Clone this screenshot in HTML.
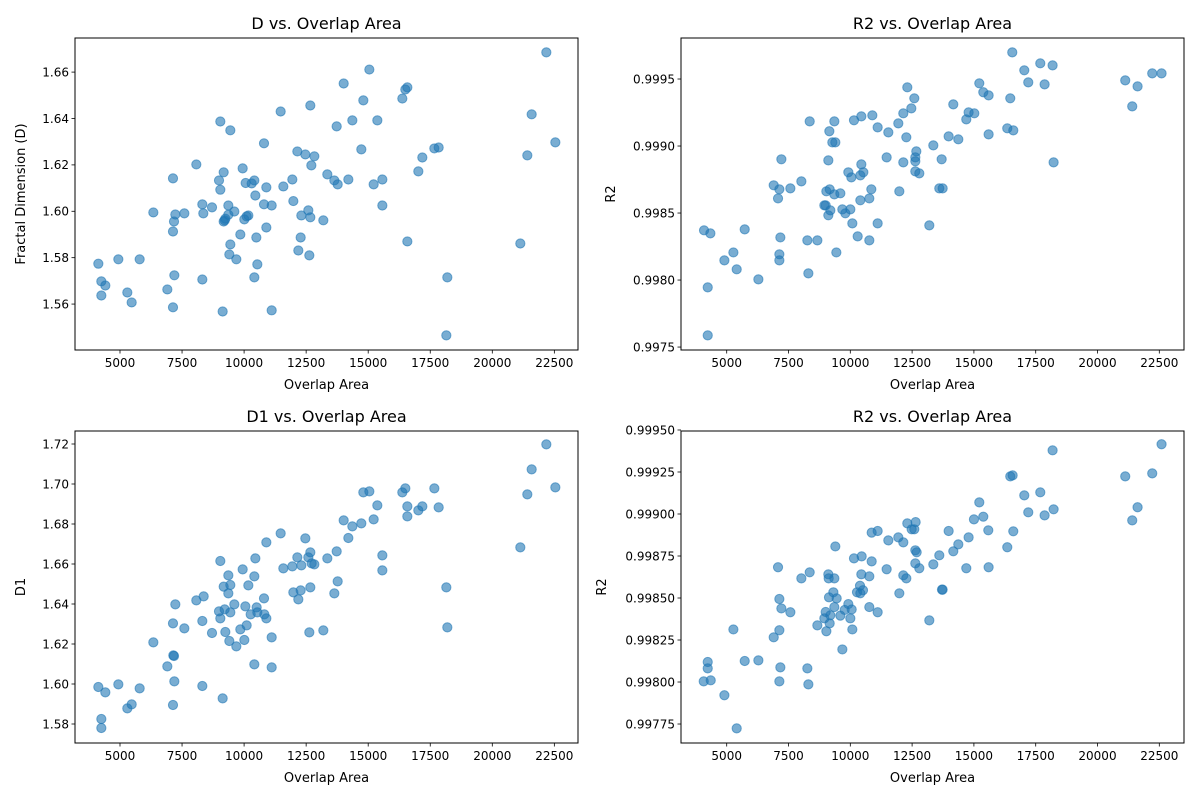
<!DOCTYPE html>
<html><head><meta charset="utf-8">
<style>
html,body{margin:0;padding:0;background:#fff;}
svg{display:block;font-family:"DejaVu Sans","Liberation Sans",sans-serif;}
</style></head>
<body>
<svg id="fig" width="1200" height="800" viewBox="0 0 1200 800" xmlns="http://www.w3.org/2000/svg"></svg>
<script>
const xTicks = [5000,7500,10000,12500,15000,17500,20000,22500];

const dX = [4127,4248,4248,4409,4933,5295,5470,5792,6343,6907,7135,7135,7135,7176,7189,7229,7592,8075,8317,8357,8317,8707,9042,8989,9042,9136,9177,9177,9217,9244,9365,9365,9405,9445,9445,9606,9687,9848,9942,10009,10063,10103,10171,10305,10412,10412,10453,10493,10533,10802,10802,10896,10896,11111,11111,11473,11581,11943,11984,12145,12185,12279,12306,12467,12588,12628,12668,12668,12709,12830,13192,13353,13635,13730,13770,14012,14200,14361,14723,14804,15046,15220,15368,15570,15570,16375,16496,16577,16577,17020,17181,17665,17839,18148,18188,21129,21411,21586,22177,22540];
const dY = [1.5774,1.5698,1.5637,1.5680,1.5793,1.5650,1.5607,1.5793,1.5995,1.5663,1.6142,1.5913,1.5586,1.5956,1.5724,1.5986,1.5991,1.6202,1.6030,1.5991,1.5706,1.6017,1.6387,1.6133,1.6093,1.5568,1.6168,1.5956,1.5961,1.5968,1.6025,1.5985,1.5814,1.6349,1.5857,1.5999,1.5793,1.5900,1.6185,1.5965,1.6122,1.5978,1.5982,1.6120,1.6133,1.5715,1.6068,1.5887,1.5771,1.6293,1.6030,1.6103,1.5930,1.6025,1.5573,1.6430,1.6107,1.6137,1.6044,1.6258,1.5831,1.5887,1.5982,1.6245,1.6004,1.5810,1.6456,1.5974,1.6198,1.6237,1.5961,1.6159,1.6133,1.6366,1.6116,1.6551,1.6137,1.6392,1.6267,1.6478,1.6611,1.6116,1.6392,1.6137,1.6025,1.6486,1.6525,1.6534,1.5870,1.6172,1.6232,1.6271,1.6275,1.5465,1.5715,1.5861,1.6241,1.6418,1.6685,1.6297];
const dTicks = [1.56,1.58,1.60,1.62,1.64,1.66];

const r2aX = [4083,4339,4232,4232,4906,5270,5404,5728,6281,6901,7076,7130,7170,7130,7130,7211,7575,8020,8357,8262,8303,8667,9004,8950,9031,9111,9152,9165,9192,9111,9273,9354,9394,9354,9435,9597,9678,9799,9920,10001,10042,10082,10149,10298,10405,10405,10446,10446,10527,10769,10769,10850,10891,11106,11106,11470,11538,11942,11983,12144,12144,12266,12306,12468,12589,12630,12630,12670,12630,12791,13196,13358,13600,13695,13735,13978,14166,14369,14692,14786,15016,15218,15380,15595,15595,16350,16471,16552,16593,17038,17199,17685,17860,18183,18224,21122,21405,21621,22214,22591];
const r2aY = [0.998371,0.998348,0.997945,0.997587,0.998147,0.998206,0.998080,0.998378,0.998005,0.998707,0.998609,0.998677,0.998318,0.998192,0.998147,0.998901,0.998684,0.998736,0.999184,0.998296,0.998050,0.998296,0.998557,0.998557,0.998662,0.998893,0.999110,0.998677,0.998520,0.998483,0.999027,0.999184,0.999027,0.998639,0.998206,0.998647,0.998527,0.998498,0.998804,0.998527,0.998766,0.998423,0.999192,0.998326,0.998781,0.998595,0.999221,0.998863,0.998804,0.998296,0.998609,0.998677,0.999229,0.999139,0.998423,0.998915,0.999102,0.999169,0.998662,0.999244,0.998878,0.999065,0.999438,0.999281,0.999356,0.998915,0.998886,0.998960,0.998811,0.998796,0.998408,0.999005,0.998684,0.998901,0.998684,0.999072,0.999311,0.999050,0.999199,0.999251,0.999244,0.999468,0.999401,0.999378,0.999087,0.999132,0.999356,0.999699,0.999117,0.999565,0.999475,0.999617,0.999460,0.999602,0.998878,0.999490,0.999296,0.999445,0.999542,0.999542];
const r2aTicks = [0.9975,0.9980,0.9985,0.9990,0.9995];

const d1X = [4127,4409,4248,4248,4933,5295,5470,5792,6343,6907,7135,7149,7176,7189,7135,7229,7592,8075,8371,8317,8317,8707,9042,8989,9042,9136,9177,9217,9244,9365,9365,9405,9445,9445,9606,9687,9848,9942,10009,10050,10103,10171,10265,10412,10412,10453,10506,10533,10802,10815,10896,10896,11111,11111,11473,11581,11943,11984,12145,12185,12279,12306,12467,12588,12628,12668,12668,12722,12830,13192,13353,13635,13730,13770,14012,14200,14361,14723,14804,15046,15220,15368,15570,15570,16375,16496,16577,16577,17020,17181,17665,17839,18148,18188,21129,21411,21586,22177,22540];
const d1Y = [1.5985,1.5958,1.5825,1.5780,1.5998,1.5878,1.5898,1.5978,1.6208,1.6088,1.6303,1.6143,1.6140,1.6013,1.5895,1.6398,1.6278,1.6418,1.6438,1.6315,1.5990,1.6255,1.6615,1.6363,1.6328,1.5928,1.6487,1.6373,1.6260,1.6543,1.6453,1.6215,1.6495,1.6358,1.6398,1.6188,1.6273,1.6573,1.6220,1.6388,1.6293,1.6493,1.6348,1.6538,1.6098,1.6628,1.6383,1.6358,1.6428,1.6348,1.6708,1.6328,1.6233,1.6083,1.6753,1.6578,1.6588,1.6458,1.6633,1.6423,1.6468,1.6593,1.6728,1.6633,1.6258,1.6658,1.6483,1.6603,1.6598,1.6268,1.6628,1.6453,1.6663,1.6513,1.6818,1.6730,1.6788,1.6803,1.6958,1.6963,1.6823,1.6893,1.6643,1.6568,1.6958,1.6978,1.6888,1.6838,1.6868,1.6888,1.6978,1.6883,1.6483,1.6283,1.6683,1.6948,1.7073,1.7198,1.6983];
const d1Ticks = [1.58,1.60,1.62,1.64,1.66,1.68,1.70,1.72];

const r2bX = [4070,4353,4232,4232,4906,5270,5404,5728,6281,6901,7076,7130,7130,7170,7130,7211,7575,8020,8357,8262,8303,8667,9004,8950,9031,9111,9125,9138,9165,9192,9314,9354,9394,9354,9448,9597,9678,9772,9920,10001,10055,10082,10149,10271,10392,10405,10459,10513,10446,10769,10769,10864,10864,11106,11106,11470,11538,11942,11983,12144,12144,12266,12306,12481,12589,12643,12630,12684,12630,12791,13196,13358,13600,13708,13735,13978,14166,14369,14692,14786,15002,15218,15380,15582,15595,16350,16471,16566,16593,17038,17199,17685,17860,18224,18183,21122,21405,21621,22214,22591];
const r2bY = [0.998004,0.998010,0.998119,0.998081,0.997921,0.998313,0.997724,0.998125,0.998129,0.998266,0.998683,0.998494,0.998308,0.998087,0.998004,0.998438,0.998415,0.998617,0.998653,0.998081,0.997986,0.998337,0.998417,0.998379,0.998302,0.998641,0.998617,0.998504,0.998349,0.998397,0.998534,0.998617,0.998807,0.998446,0.998498,0.998395,0.998194,0.998429,0.998464,0.998379,0.998432,0.998313,0.998736,0.998534,0.998573,0.998528,0.998748,0.998546,0.998641,0.998446,0.998629,0.998889,0.998718,0.998899,0.998415,0.998671,0.998843,0.998861,0.998528,0.998831,0.998635,0.998617,0.998944,0.998909,0.998909,0.998952,0.998784,0.998772,0.998706,0.998677,0.998367,0.998700,0.998754,0.998550,0.998550,0.998899,0.998778,0.998819,0.998677,0.998861,0.998968,0.999069,0.998984,0.998903,0.998683,0.998802,0.999224,0.999230,0.998897,0.999111,0.999010,0.999129,0.998992,0.999028,0.999379,0.999224,0.998962,0.999040,0.999242,0.999415];
const r2bTicks = [0.99775,0.99800,0.99825,0.99850,0.99875,0.99900,0.99925,0.99950];

const NS = "http://www.w3.org/2000/svg";
const svg = document.getElementById('fig');
function mk(tag, attrs, parent){const e=document.createElementNS(NS,tag);for(const k in attrs)e.setAttribute(k,attrs[k]);(parent||svg).appendChild(e);return e;}

function panel(cfg){
  const {key,L,T,R,B,xmin,xmax,ymin,ymax,xs,ys,yt,ydec,title,ylab,ylabX} = cfg;
  const g = mk('g',{});
  
  
  const sx = v => L + (v - xmin)/(xmax - xmin)*(R - L);
  const sy = v => B - (v - ymin)/(ymax - ymin)*(B - T);
  // points
  const pts = mk('g',{},g);
  
  
  for(let i=0;i<xs.length;i++){
    const c = mk('circle',{cx:sx(xs[i]),cy:sy(ys[i]),r:4.6,fill:'#1f77b4','fill-opacity':0.6,stroke:'#1f77b4','stroke-opacity':0.6,'stroke-width':1},pts);
    
    
  }
  // frame
  const fr = mk('rect',{x:L,y:T,width:R-L,height:B-T,fill:'none',stroke:'#000','stroke-width':1},g);
  
  
  // x ticks
  xTicks.forEach(v=>{
    const x = sx(v);
    mk('line',{x1:x,x2:x,y1:B,y2:B+3.5,stroke:'#000','stroke-width':0.8},g);
    const t = mk('text',{x:x,y:B+17,'font-size':12,'text-anchor':'middle',fill:'#000'},g);
    t.textContent = String(v);
    
    
  });
  yt.forEach(v=>{
    const y = sy(v);
    mk('line',{x1:L-3.5,x2:L,y1:y,y2:y,stroke:'#000','stroke-width':0.8},g);
    const t = mk('text',{x:L-6,y:y+4.3,'font-size':12,'text-anchor':'end',fill:'#000'},g);
    t.textContent = v.toFixed(ydec);
    
    
  });
  const ti = mk('text',{x:(L+R)/2,y:T-9,'font-size':16,'text-anchor':'middle',fill:'#000'},g);
  ti.textContent = title;
  
  
  const xl = mk('text',{x:(L+R)/2,y:B+39,'font-size':13,'text-anchor':'middle',fill:'#000'},g);
  xl.textContent = 'Overlap Area';
  
  
  const cy=(T+B)/2;
  const yl = mk('text',{x:ylabX,y:cy,'font-size':13,'text-anchor':'middle',fill:'#000',transform:`rotate(-90 ${ylabX} ${cy})`},g);
  yl.textContent = ylab;
  
  
}

panel({key:'d',L:75,T:38,R:578,B:350,xmin:3187,xmax:23453,ymin:1.5402,ymax:1.6747,xs:dX,ys:dY,yt:dTicks,ydec:2,title:'D vs. Overlap Area',ylab:'Fractal Dimension (D)',ylabX:25});
panel({key:'r2-top',L:681,T:38,R:1184,B:350,xmin:3151,xmax:23499,ymin:0.997478,ymax:0.999806,xs:r2aX,ys:r2aY,yt:r2aTicks,ydec:4,title:'R2 vs. Overlap Area',ylab:'R2',ylabX:615});
panel({key:'d1',L:75,T:431,R:578,B:743,xmin:3187,xmax:23453,ymin:1.5705,ymax:1.7265,xs:d1X,ys:d1Y,yt:d1Ticks,ydec:2,title:'D1 vs. Overlap Area',ylab:'D1',ylabX:25});
panel({key:'r2-bottom',L:681,T:431,R:1184,B:743,xmin:3151,xmax:23499,ymin:0.997637,ymax:0.999494,xs:r2bX,ys:r2bY,yt:r2bTicks,ydec:5,title:'R2 vs. Overlap Area',ylab:'R2',ylabX:606});
</script>
</body></html>
